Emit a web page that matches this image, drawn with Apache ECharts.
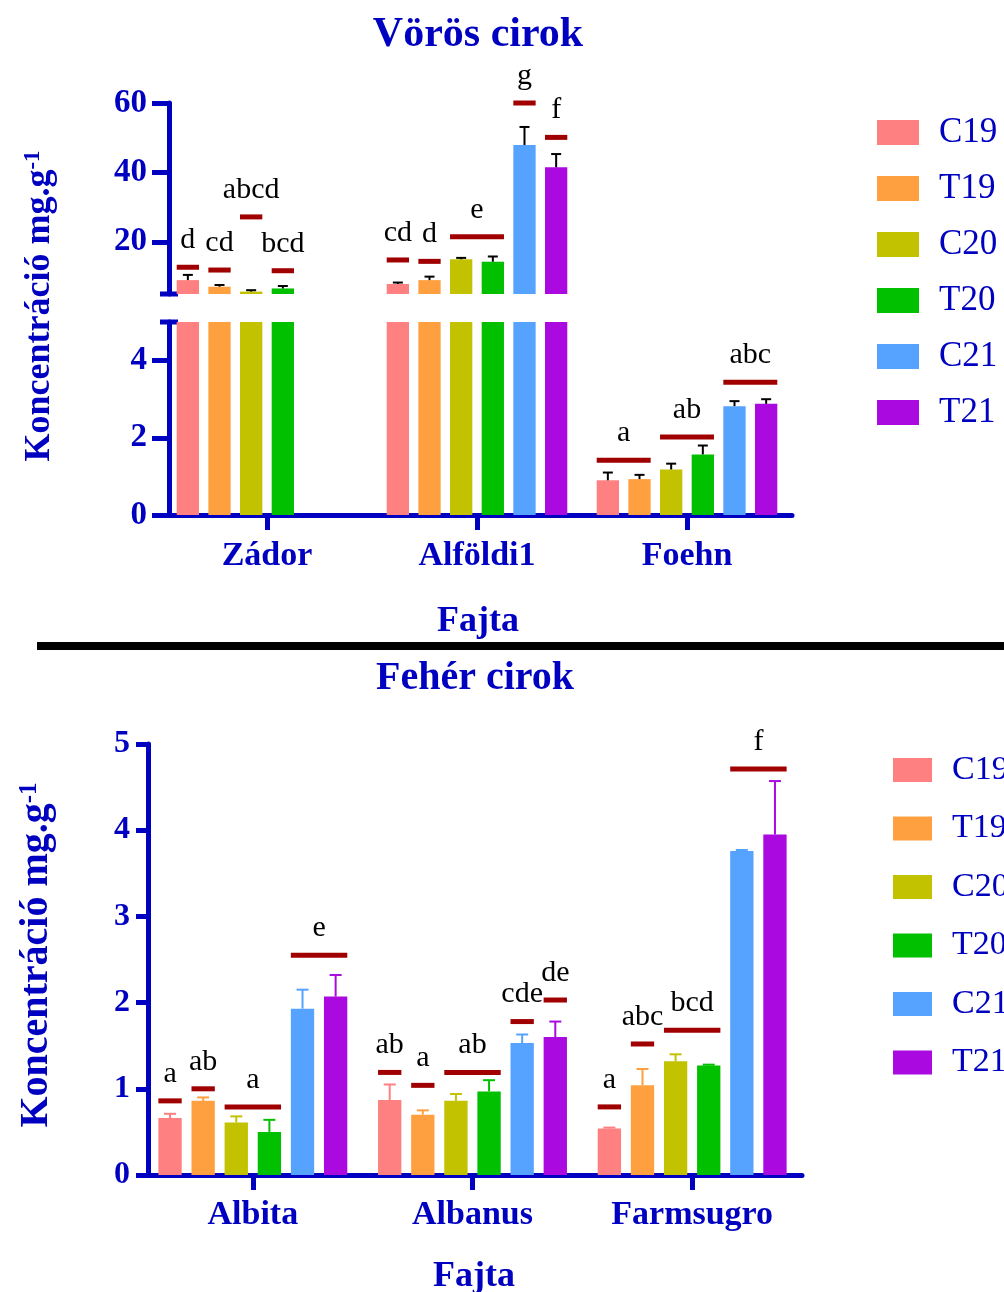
<!DOCTYPE html>
<html><head><meta charset="utf-8">
<script src="https://cdn.jsdelivr.net/npm/echarts@6/dist/echarts.min.js"></script>
<style>html,body{margin:0;padding:0;background:#fff}#c{width:1004px;height:1292px}</style>
</head><body><div id="c"></div>
<script>
// ---------- DATA ----------
const seriesNames = ['C19', 'T19', 'C20', 'T20', 'C21', 'T21'];

// Top panel: Vörös cirok
const topCategories = ['Zádor', 'Alföldi1', 'Foehn'];
const topC19 = [9.0, 7.9, 0.90];
const topT19 = [7.1, 9.0, 0.93];
const topC20 = [5.7, 15.0, 1.18];
const topT20 = [6.6, 14.3, 1.57];
const topC21 = [null, 47.9, 2.82];
const topT21 = [null, 41.5, 2.88];
const topC19Err = [1.5, 0.4, 0.20];
const topT19Err = [0.5, 1.0, 0.11];
const topC20Err = [0.4, 0.4, 0.15];
const topT20Err = [0.7, 1.5, 0.23];
const topC21Err = [null, 5.2, 0.13];
const topT21Err = [null, 3.8, 0.12];
const topUpperTicks = [20, 40, 60];
const topLowerTicks = [0, 2, 4];
const topBreak = 5;
// significance marks: [category, first series, last series, level, letters]
const topSig = [
  [0, 0, 0, 12.7, 'd'], [0, 1, 1, 11.9, 'cd'], [0, 2, 2, 27.2, 'abcd'], [0, 3, 3, 11.7, 'bcd'],
  [1, 0, 0, 14.8, 'cd'], [1, 1, 1, 14.4, 'd'], [1, 2, 3, 21.5, 'e'], [1, 4, 4, 60, 'g'], [1, 5, 5, 50.1, 'f'],
  [2, 0, 1, 1.42, 'a'], [2, 2, 3, 2.02, 'ab'], [2, 4, 5, 3.44, 'abc']
];

// Bottom panel: Fehér cirok
const botCategories = ['Albita', 'Albanus', 'Farmsugro'];
const botC19 = [0.66, 0.87, 0.54];
const botT19 = [0.86, 0.70, 1.04];
const botC20 = [0.61, 0.86, 1.32];
const botT20 = [0.50, 0.97, 1.27];
const botC21 = [1.93, 1.53, 3.76];
const botT21 = [2.07, 1.60, 3.95];
const botC19Err = [0.05, 0.18, 0.01];
const botT19Err = [0.04, 0.05, 0.19];
const botC20Err = [0.07, 0.08, 0.08];
const botT20Err = [0.14, 0.13, 0.01];
const botC21Err = [0.22, 0.10, 0.01];
const botT21Err = [0.25, 0.18, 0.62];
const botSig = [
  [0, 0, 0, 0.86, 'a'], [0, 1, 1, 1.00, 'ab'], [0, 2, 3, 0.79, 'a'], [0, 4, 5, 2.55, 'e'],
  [1, 0, 0, 1.19, 'ab'], [1, 1, 1, 1.04, 'a'], [1, 2, 3, 1.19, 'ab'], [1, 4, 4, 1.78, 'cde'], [1, 5, 5, 2.03, 'de'],
  [2, 0, 0, 0.79, 'a'], [2, 1, 1, 1.52, 'abc'], [2, 2, 3, 1.68, 'bcd'], [2, 4, 5, 4.71, 'f']
];

// ---------- STYLE ----------
const seriesColors = ['#ff8080', '#ffa040', '#c2c200', '#00c000', '#55a2ff', '#aa0ae0'];
const BLUE = '#0000c0';
const SIGRED = '#a00000';
const SERIF = '"Liberation Serif","Times New Roman",serif';
const CAT_GAP = 0.14, BAR_GAP = 0.42, NB = 6;

const topMeans = [topC19, topT19, topC20, topT20, topC21, topT21];
const topErrs = [topC19Err, topT19Err, topC20Err, topT20Err, topC21Err, topT21Err];
const botMeans = [botC19, botT19, botC20, botT20, botC21, botT21];
const botErrs = [botC19Err, botT19Err, botC20Err, botT20Err, botC21Err, botT21Err];

const G0 = {left: 162, top: 103, width: 630, height: 191};
const G1 = {left: 162, top: 322, width: 630, height: 193};
const G2 = {left: 143, top: 744, width: 659, height: 431};
const TOP_AXIS_SHIFT = 7, BOT_AXIS_SHIFT = 5;

function barW(api) {
  const band = api.size([1, 0])[0];
  return band * (1 - CAT_GAP) / (NB + (NB - 1) * BAR_GAP);
}
function barCenterX(api, cat, idx) {
  const band = api.size([1, 0])[0];
  const c = api.coord([cat, 0])[0];
  const bw = barW(api);
  return c - band * (1 - CAT_GAP) / 2 + idx * bw * (1 + BAR_GAP) + bw / 2;
}

function errSeries(axisIdx, means, errs, colors, keep, capW) {
  const items = [];
  for (let s = 0; s < means.length; s++) {
    for (let c = 0; c < means[s].length; c++) {
      const m = means[s][c];
      if (m == null || !keep(m)) continue;
      items.push([c, m, s, errs[s][c]]);
    }
  }
  return {
    type: 'custom', xAxisIndex: axisIdx, yAxisIndex: axisIdx, data: items,
    encode: {x: 0, y: 1}, clip: false, z: 5, silent: true,
    renderItem(params, api) {
      const c = api.value(0), m = api.value(1), s = api.value(2), e = api.value(3);
      const x = barCenterX(api, c, s);
      const y0 = api.coord([c, m])[1], y1 = api.coord([c, m + e])[1];
      const col = colors ? colors[s] : '#000';
      return {type: 'group', children: [
        {type: 'line', shape: {x1: x, y1: y0, x2: x, y2: y1}, style: {stroke: col, lineWidth: 2}},
        {type: 'line', shape: {x1: x - capW / 2, y1: y1, x2: x + capW / 2, y2: y1}, style: {stroke: col, lineWidth: 2}}
      ]};
    }
  };
}

function sigSeries(axisIdx, list) {
  return {
    type: 'custom', xAxisIndex: axisIdx, yAxisIndex: axisIdx,
    data: list.map(a => [a[0], a[3]]), encode: {x: 0, y: 1}, clip: false, z: 6, silent: true,
    renderItem(params, api) {
      const a = list[params.dataIndex];
      const bw = barW(api);
      const x1 = barCenterX(api, a[0], a[1]) - bw / 2;
      const x2 = barCenterX(api, a[0], a[2]) + bw / 2;
      const y = api.coord([a[0], a[3]])[1];
      return {type: 'group', children: [
        {type: 'rect', shape: {x: x1, y: y - 2.5, width: x2 - x1, height: 5}, style: {fill: SIGRED}},
        {type: 'text', style: {text: a[4], x: (x1 + x2) / 2, y: y - 27, align: 'center', verticalAlign: 'middle',
          font: '30px ' + SERIF, fill: '#000'}}
      ]};
    }
  };
}

const series = [];
[0, 1].forEach(gi => {
  seriesNames.forEach((n, i) => {
    series.push({
      type: 'bar', name: n, xAxisIndex: gi, yAxisIndex: gi, data: topMeans[i].map(v => v == null ? '-' : v),
      itemStyle: {color: seriesColors[i]}, barCategoryGap: (CAT_GAP * 100) + '%', barGap: (BAR_GAP * 100) + '%',
      clip: true, silent: true
    });
  });
});
seriesNames.forEach((n, i) => {
  series.push({
    type: 'bar', name: n, xAxisIndex: 2, yAxisIndex: 2, data: botMeans[i],
    itemStyle: {color: seriesColors[i]}, barCategoryGap: (CAT_GAP * 100) + '%', barGap: (BAR_GAP * 100) + '%',
    silent: true
  });
});
series.push(errSeries(0, topMeans, topErrs, null, m => m >= topBreak, 10));
series.push(errSeries(1, topMeans, topErrs, null, m => m < topBreak, 10));
series.push(errSeries(2, botMeans, botErrs, seriesColors, m => true, 12));
series.push(sigSeries(0, topSig.filter(a => a[3] >= topBreak)));
series.push(sigSeries(1, topSig.filter(a => a[3] < topBreak)));
series.push(sigSeries(2, botSig));

const axisLineStyle = {color: BLUE, width: 5};
const yLabel = (size, margin, vals) => Object.assign({color: BLUE, fontFamily: SERIF, fontWeight: 'bold', fontSize: size, margin: margin}, vals ? {customValues: vals} : {});
const yTick = (len, vals) => Object.assign({show: true, length: len, lineStyle: {color: BLUE, width: 5}}, vals ? {customValues: vals} : {});
const xAx = (gi, cats, margin) => ({
  gridIndex: gi, type: 'category', data: cats,
  axisLine: {show: true, lineStyle: axisLineStyle},
  axisTick: {show: true, alignWithLabel: true, length: 15, lineStyle: {color: BLUE, width: 5}},
  axisLabel: {color: BLUE, fontFamily: SERIF, fontWeight: 'bold', fontSize: 34, margin: margin},
  splitLine: {show: false}
});

const legendBase = {orient: 'vertical', icon: 'rect', data: seriesNames, selectedMode: false, padding: 0};

const option = {
  animation: false,
  backgroundColor: '#fff',
  grid: [G0, G1, G2],
  xAxis: [
    {gridIndex: 0, type: 'category', data: topCategories, show: false},
    xAx(1, topCategories, 24),
    xAx(2, botCategories, 23)
  ],
  yAxis: [
    {gridIndex: 0, type: 'value', min: topBreak, max: 60, offset: -TOP_AXIS_SHIFT,
      axisLine: {show: true, lineStyle: axisLineStyle}, axisTick: yTick(17, topUpperTicks),
      axisLabel: yLabel(33, 22, topUpperTicks), splitLine: {show: false}},
    {gridIndex: 1, type: 'value', min: 0, max: topBreak, offset: -TOP_AXIS_SHIFT,
      axisLine: {show: true, lineStyle: axisLineStyle}, axisTick: yTick(17, topLowerTicks),
      axisLabel: yLabel(33, 22, topLowerTicks), splitLine: {show: false}},
    {gridIndex: 2, type: 'value', min: 0, max: 5, interval: 1, offset: -BOT_AXIS_SHIFT,
      axisLine: {show: true, lineStyle: axisLineStyle}, axisTick: yTick(12),
      axisLabel: yLabel(32, 18), splitLine: {show: false}}
  ],
  legend: [
    Object.assign({}, legendBase, {left: 877, top: 115, itemWidth: 42, itemHeight: 25, itemGap: 21,
      textStyle: {color: BLUE, fontFamily: SERIF, fontSize: 35, padding: [0, 0, 0, 15]}}),
    Object.assign({}, legendBase, {left: 893, top: 753, itemWidth: 39, itemHeight: 24, itemGap: 24.5,
      textStyle: {color: BLUE, fontFamily: SERIF, fontSize: 34, padding: [0, 0, 0, 15]}})
  ],
  graphic: [
    {type: 'text', x: 478, y: 35, style: {text: 'Vörös cirok', font: 'bold 42px ' + SERIF, fill: BLUE, align: 'center', verticalAlign: 'middle'}},
    {type: 'text', x: 475, y: 679, style: {text: 'Fehér cirok', font: 'bold 40px ' + SERIF, fill: BLUE, align: 'center', verticalAlign: 'middle'}},
    {type: 'text', x: 478, y: 622, style: {text: 'Fajta', font: 'bold 36px ' + SERIF, fill: BLUE, align: 'center', verticalAlign: 'middle'}},
    {type: 'text', x: 474, y: 1277, style: {text: 'Fajta', font: 'bold 36px ' + SERIF, fill: BLUE, align: 'center', verticalAlign: 'middle'}},
    {type: 'text', x: 40, y: 306, rotation: Math.PI / 2, style: {
      text: '{m|Koncentráció mg.g}{s|-1}', align: 'center', verticalAlign: 'middle',
      rich: {m: {fontFamily: SERIF, fontWeight: 'bold', fontSize: 36, fill: BLUE, verticalAlign: 'bottom'},
             s: {fontFamily: SERIF, fontWeight: 'bold', fontSize: 23, fill: BLUE, verticalAlign: 'top'}}}},
    {type: 'text', x: 37, y: 955, rotation: Math.PI / 2, style: {
      text: '{m|Koncentráció mg.g}{s|-1}', align: 'center', verticalAlign: 'middle',
      rich: {m: {fontFamily: SERIF, fontWeight: 'bold', fontSize: 40, fill: BLUE, verticalAlign: 'bottom'},
             s: {fontFamily: SERIF, fontWeight: 'bold', fontSize: 25, fill: BLUE, verticalAlign: 'top'}}}},
    {type: 'rect', shape: {x: 37, y: 642, width: 967, height: 8}, style: {fill: '#000'}},
    {type: 'line', shape: {x1: G0.left + TOP_AXIS_SHIFT - 9, y1: G0.top + G0.height, x2: G0.left + TOP_AXIS_SHIFT + 9, y2: G0.top + G0.height}, style: {stroke: BLUE, lineWidth: 5}},
    {type: 'line', shape: {x1: G1.left + TOP_AXIS_SHIFT - 9, y1: G1.top, x2: G1.left + TOP_AXIS_SHIFT + 9, y2: G1.top}, style: {stroke: BLUE, lineWidth: 5}}
  ],
  series: series
};

const chart = echarts.init(document.getElementById('c'), null, {renderer: 'canvas'});
chart.setOption(option);
</script>
</body></html>
